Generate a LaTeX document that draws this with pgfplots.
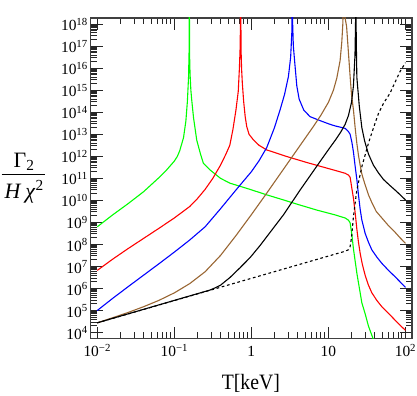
\documentclass[border=0pt]{standalone}
\usepackage{fontspec}
\setmainfont{Liberation Serif}
\usepackage{pgfplots}
\pgfplotsset{compat=1.18}
\definecolor{mgreen}{rgb}{0,1,0}
\definecolor{mred}{rgb}{1,0,0}
\definecolor{mblue}{rgb}{0,0,1}
\definecolor{mbrown}{rgb}{0.6,0.4,0.2}
\newcommand{\tp}[1]{10\textsuperscript{#1}}
\newcommand{\lbl}{\fontsize{22}{26}\selectfont}

\begin{document}
\begin{tikzpicture}
\begin{axis}[
    scale only axis, width=321.3bp, height=320.7bp,
    xmode=log, ymode=log,
    xmin=8.222e-3, xmax=121.6,
    ymin=5.248e3, ymax=1.905e18,
    xtickten={-2,...,2},
    ytickten={4,...,18},
    xticklabels={\tp{−2},\tp{−1},1,10,\tp{2}},
    yticklabels={\tp{4},\tp{5},\tp{6},\tp{7},\tp{8},\tp{9},\tp{10},\tp{11},
                 \tp{12},\tp{13},\tp{14},\tp{15},\tp{16},\tp{17},\tp{18}},
    tick align=inside,
    major tick length=12bp, minor tick length=6.5bp,
    every tick/.style={black!85, line width=0.9bp},
    axis line style={black!75, line width=1.4bp},
    tick label style={font=\fontsize{15.5}{18}\selectfont},
    xticklabel style={anchor=base, inner sep=0pt, yshift=-18.3bp},
    yticklabel style={anchor=base east, inner sep=0pt, xshift=-2.7bp, yshift=-6.6bp},
    every axis plot/.append style={line width=1.1bp, line join=round},
]
% green
\addplot[mgreen] coordinates {
 (0.01,6.31e8) (0.01585,2.19e9) (0.02512,7.08e9) (0.03981,2.45e10) (0.0631,1.07e11)
 (0.07943,2.40e11) (0.1,6.03e11) (0.1096,1.0e12) (0.1175,1.78e12) (0.1318,7.08e12)
 (0.1413,3.98e13) (0.1479,3.16e14)
 (0.1531,3.98e15) (0.1556,6.31e16) (0.1563,3.98e18) (0.1570,3.98e18) (0.1585,2.0e16)
 (0.1603,5.01e15) (0.1641,1.0e15) (0.1683,3.63e14) (0.1778,5.50e13) (0.1954,5.50e12)
 (0.2188,1.26e12) (0.2382,4.90e11) (0.2911,2.40e11) (0.3981,1.0e11) (0.5272,6.03e10)
 (0.9594,3.16e10) (1.585,1.78e10) (2.606,1.05e10) (3.981,6.61e9) (7.063,3.63e9)
 (12.22,2.19e9) (16.48,1.585e9) (18.20,1.26e9) (19.14,9.55e8) (20.14,2.82e8)
 (21.13,6.31e7) (23.39,5.01e6) (27.16,2.24e5) (29.99,7.08e4) (33.04,2.0e4)
 (38.37,4.79e3) (41.69,1.585e3)
};
% red
\addplot[mred] coordinates {
 (0.01,6.61e6) (0.01585,2.14e7) (0.02512,6.46e7) (0.03981,1.86e8) (0.0631,5.37e8)
 (0.1,1.585e9) (0.1585,5.25e9) (0.1995,1.20e10) (0.2512,3.16e10) (0.3162,1.0e11)
 (0.3981,3.98e11) (0.4677,1.26e12) (0.5248,3.16e12) (0.5754,1.585e13) (0.6310,1.26e14)
 (0.6761,8.91e14) (0.6998,1.0e16) (0.7161,1.0e17) (0.7244,3.98e18) (0.7311,3.98e18)
 (0.7345,7.94e16) (0.7464,1.0e16) (0.7638,2.09e15) (0.7943,3.16e14) (0.8318,6.31e13)
 (0.8710,2.24e13) (0.9333,1.0e13) (1.062,5.62e12) (1.259,3.16e12) (1.585,1.95e12)
 (2.884,9.77e11) (5.236,5.25e11) (7.798,3.55e11) (12.22,2.29e11) (16.48,1.70e11)
 (18.20,1.41e11) (19.14,1.12e11) (20.14,3.55e10) (21.13,1.26e10) (22.23,2.82e9)
 (23.39,5.01e8) (24.55,1.26e8) (25.82,3.98e7) (27.54,1.26e7) (29.99,3.98e6)
 (33.11,1.41e6) (36.64,6.31e5) (42.66,2.82e5) (49.43,1.48e5) (60.26,7.41e4)
 (73.45,3.63e4) (85.11,2.14e4) (100,1.26e4)
};
% blue
\addplot[mblue] coordinates {
 (0.01,1.0e5) (0.01585,3.55e5) (0.02512,1.20e6) (0.03981,3.98e6) (0.0631,1.32e7)
 (0.1,4.47e7) (0.1585,1.585e8) (0.2512,6.31e8) (0.3981,4.17e9) (0.631,2.95e10)
 (1,2.0e11) (1.259,6.31e11) (1.585,2.51e12) (1.995,2.0e13) (2.360,1.29e14)
 (2.692,6.31e14) (3.027,4.17e15) (3.236,3.16e16) (3.350,3.98e17) (3.365,3.98e18)
 (3.396,3.98e18) (3.508,1.0e17) (3.698,1.17e16) (3.890,1.585e15) (4.169,3.98e14)
 (4.786,1.26e14) (5.781,6.31e13) (7.798,4.17e13) (10.52,2.82e13) (12.22,2.40e13)
 (16.48,1.86e13) (18.20,1.32e13) (19.14,1.0e13) (20.14,4.47e12) (21.13,1.585e12)
 (22.23,3.55e11) (23.39,8.91e10) (24.55,1.78e10) (25.82,3.98e9) (27.16,1.29e9)
 (29.99,3.16e8) (33.11,1.26e8) (36.64,5.62e7) (42.66,2.63e7) (49.43,1.38e7)
 (60.26,6.61e6) (73.45,3.39e6) (85.11,2.0e6) (100,1.12e6)
};
% brown
\addplot[mbrown] coordinates {
 (0.01,2.75e4) (0.01585,4.68e4) (0.02512,8.13e4) (0.03981,1.48e5) (0.0631,2.88e5)
 (0.1,6.31e5) (0.1585,1.66e6) (0.2512,5.75e6) (0.3981,3.16e7) (0.631,2.51e8)
 (1,2.24e9) (1.585,2.14e10) (2.512,2.14e11) (3.981,2.14e12) (6.310,2.14e13)
 (7.943,7.08e13) (10,2.82e14) (11.61,1.0e15) (12.85,3.55e15) (14.19,2.24e16)
 (14.93,1.585e17) (15.38,1.0e18) (15.56,3.98e18) (15.85,3.98e18) (17.22,7.94e17)
 (18.20,5.01e16) (19.14,4.17e15) (19.95,6.31e14) (21.13,1.29e14) (22.23,2.0e13)
 (23.39,3.89e12) (24.55,1.12e12) (25.82,3.98e11) (27.16,1.585e11) (28.51,8.91e10)
 (29.99,5.01e10) (33.11,1.78e10) (36.64,7.94e9) (41.69,3.16e9) (49.43,1.585e9)
 (60.26,7.08e8) (73.45,3.55e8) (85.11,2.0e8) (100,1.12e8)
};
% black
\addplot[black] coordinates {
 (0.01,2.75e4) (0.1,2.88e5) (0.2911,8.51e5) (0.3388,1.07e6) (0.3981,1.41e6) (0.5284,3.16e6)
 (0.7079,8.51e6) (0.9616,2.51e7) (1.297,8.91e7) (1.585,2.24e8) (2.606,2.19e9)
 (4.295,2.95e10) (7.063,3.55e11) (10,2.0e12) (12.22,5.25e12) (14.45,1.26e13)
 (16.48,2.82e13) (18.20,7.08e13) (19.95,2.82e14) (21.13,1.585e15) (22.13,3.98e16)
 (22.49,1.0e18) (22.59,3.98e18) (22.80,3.98e18) (23.01,1.585e17) (23.39,3.98e15)
 (25.12,2.0e14) (27.16,2.0e13) (29.51,5.01e12) (33.11,1.26e12) (38.37,3.98e11)
 (44.57,1.78e11) (51.76,8.91e10) (63.10,4.68e10) (77.09,2.51e10) (100,1.05e10)
};
% dotted
\addplot[black, dash pattern=on 2.7bp off 2.7bp] coordinates {
 (0.01,2.75e4) (16.48,4.90e7) (18.20,5.75e7) (19.14,7.94e7) (19.95,2.0e8)
 (21.13,1.82e9) (22.23,7.41e9) (23.39,2.95e10) (27.16,3.39e11) (33.04,3.89e12)
 (39.81,2.82e13) (44.67,8.91e13) (51.76,2.51e14) (63.10,7.41e14) (74.13,2.51e15)
 (85.11,7.08e15) (100,1.78e16)
};
\end{axis}
\node[anchor=base, font=\lbl] at (-66.7bp,171.4bp) {Γ\textsubscript{2}};
\draw[line width=1bp] (-89bp,164.4bp) -- (-45.7bp,164.4bp);
\node[anchor=base, font=\lbl] at (-66.5bp,140.4bp) {\textit{H}\hspace{4bp}\textit{χ}\textsuperscript{2}};
\node[anchor=base, font=\lbl, xscale=0.9] at (160.2bp,-50.6bp) {T[keV]};
\path (-90.7bp,-56.3bp) rectangle (326.3bp,338.7bp);
\end{tikzpicture}
\end{document}
